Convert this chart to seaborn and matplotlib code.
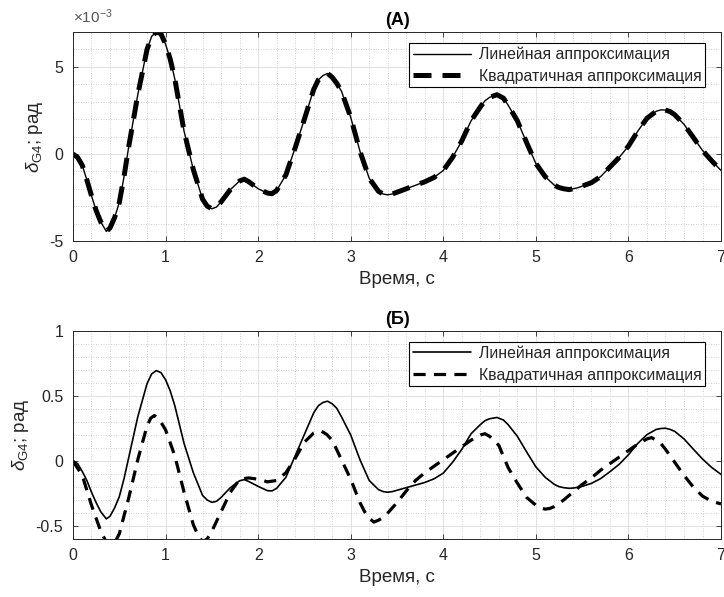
import numpy as np
import matplotlib
matplotlib.use("Agg")
import matplotlib.pyplot as plt
from matplotlib.ticker import FixedLocator, MultipleLocator, FuncFormatter
import seaborn as sns

# ---------------- data ----------------
t_lin = [0.0, 0.05, 0.1, 0.15, 0.2, 0.25, 0.3, 0.36, 0.4, 0.45, 0.5, 0.55, 0.6, 0.7, 0.8,
         0.85, 0.9, 0.95, 1.0, 1.05, 1.1, 1.2, 1.3, 1.4, 1.45, 1.5, 1.55, 1.6, 1.7, 1.8,
         1.85, 1.9, 2.0, 2.1, 2.15, 2.2, 2.3, 2.4, 2.5, 2.6, 2.65, 2.7, 2.75, 2.8, 2.85,
         2.9, 3.0, 3.1, 3.2, 3.3, 3.35, 3.4, 3.45, 3.5, 3.6, 3.7, 3.8, 3.9, 4.0, 4.1,
         4.2, 4.3, 4.4, 4.45, 4.5, 4.58, 4.65, 4.7, 4.8, 4.9, 5.0, 5.1, 5.2, 5.25, 5.3,
         5.36, 5.4, 5.45, 5.5, 5.6, 5.7, 5.8, 5.9, 6.0, 6.1, 6.2, 6.3, 6.35, 6.4, 6.45,
         6.5, 6.6, 6.7, 6.8, 6.9, 7.0]

# panel (A): values in units of 1e-3 rad
lin_a = [0.0, -0.2, -0.65, -1.5, -2.4, -3.25, -3.9, -4.45, -4.25, -3.65, -2.8, -1.35, 0.35, 3.4, 6.0,
         6.75, 7.0, 6.9, 6.3, 5.45, 4.3, 1.3, -0.9, -2.6, -3.0, -3.15, -3.05, -2.75, -2.05, -1.55,
         -1.45, -1.6, -2.0, -2.25, -2.28, -2.1, -1.2, 0.35, 2.0, 3.7, 4.25, 4.5, 4.62, 4.4, 4.05,
         3.6, 2.1, 0.15, -1.4, -2.15, -2.3, -2.35, -2.3, -2.2, -2.0, -1.8, -1.6, -1.35, -0.95, -0.2,
         0.75, 1.9, 2.7, 3.05, 3.25, 3.4, 3.2, 2.8, 1.9, 0.65, -0.55, -1.3, -1.8, -1.93, -2.0,
         -2.05, -2.0, -1.95, -1.85, -1.65, -1.3, -0.75, -0.2, 0.45, 1.3, 2.05, 2.45, 2.53, 2.52, 2.43,
         2.25, 1.7, 0.95, 0.2, -0.4, -0.95]
# the quadratic curve of panel (A) coincides with the linear one
quad_a = [0.0, -0.2, -0.65, -1.5, -2.4, -3.25, -3.9, -4.45, -4.25, -3.65, -2.8, -1.35, 0.35, 3.4, 6.0,
          6.75, 7.0, 6.9, 6.3, 5.45, 4.3, 1.3, -0.9, -2.6, -3.0, -3.15, -3.05, -2.75, -2.05, -1.55,
          -1.45, -1.6, -2.0, -2.25, -2.28, -2.1, -1.2, 0.35, 2.0, 3.7, 4.25, 4.5, 4.62, 4.4, 4.05,
          3.6, 2.1, 0.15, -1.4, -2.15, -2.3, -2.35, -2.3, -2.2, -2.0, -1.8, -1.6, -1.35, -0.95, -0.2,
          0.75, 1.9, 2.7, 3.05, 3.25, 3.4, 3.2, 2.8, 1.9, 0.65, -0.55, -1.3, -1.8, -1.93, -2.0,
          -2.05, -2.0, -1.95, -1.85, -1.65, -1.3, -0.75, -0.2, 0.45, 1.3, 2.05, 2.45, 2.53, 2.52, 2.43,
          2.25, 1.7, 0.95, 0.2, -0.4, -0.95]
scale_a = 1e-3

# panel (Б): values in rad
lin_b = [0.0, -0.02, -0.08, -0.15, -0.24, -0.32, -0.39, -0.445, -0.425, -0.36, -0.275, -0.14, 0.02, 0.34, 0.595,
         0.67, 0.695, 0.68, 0.625, 0.54, 0.425, 0.135, -0.09, -0.265, -0.30, -0.318, -0.31, -0.28, -0.205, -0.152,
         -0.143, -0.158, -0.195, -0.228, -0.23, -0.21, -0.125, 0.04, 0.205, 0.37, 0.425, 0.45, 0.46, 0.44, 0.405,
         0.34, 0.2, 0.01, -0.15, -0.22, -0.235, -0.24, -0.235, -0.225, -0.205, -0.185, -0.165, -0.137, -0.093, -0.01,
         0.09, 0.21, 0.28, 0.31, 0.325, 0.335, 0.315, 0.28, 0.19, 0.07, -0.045, -0.125, -0.18, -0.197, -0.205,
         -0.21, -0.208, -0.203, -0.195, -0.172, -0.135, -0.082, -0.025, 0.048, 0.135, 0.203, 0.243, 0.25, 0.252, 0.243,
         0.228, 0.17, 0.092, 0.015, -0.05, -0.103]

t_quad = [0.0, 0.1, 0.2, 0.3, 0.35, 0.4, 0.45, 0.5, 0.6, 0.7, 0.8, 0.84, 0.88, 0.94, 1.0,
          1.1, 1.2, 1.3, 1.35, 1.4, 1.45, 1.5, 1.6, 1.7, 1.8, 1.9, 2.0, 2.1, 2.2, 2.3,
          2.4, 2.5, 2.6, 2.64, 2.68, 2.74, 2.8, 2.9, 3.0, 3.1, 3.15, 3.2, 3.25, 3.3, 3.35,
          3.4, 3.5, 3.6, 3.7, 3.8, 3.9, 4.0, 4.1, 4.2, 4.3, 4.4, 4.45, 4.5, 4.6, 4.7,
          4.8, 4.9, 5.0, 5.05, 5.1, 5.15, 5.2, 5.3, 5.4, 5.5, 5.6, 5.7, 5.8, 5.9, 6.0,
          6.1, 6.2, 6.25, 6.3, 6.35, 6.4, 6.5, 6.6, 6.7, 6.8, 6.9, 7.0]
quad_b = [0.0, -0.11, -0.34, -0.54, -0.61, -0.66, -0.63, -0.56, -0.29, 0.01, 0.27, 0.33, 0.35, 0.31, 0.24,
          0.04, -0.24, -0.49, -0.57, -0.62, -0.6, -0.54, -0.39, -0.24, -0.14, -0.13, -0.14, -0.16, -0.15, -0.09,
          0.02, 0.145, 0.215, 0.225, 0.23, 0.205, 0.16, 0.01, -0.14, -0.32, -0.39, -0.44, -0.47, -0.455, -0.435,
          -0.40, -0.32, -0.23, -0.15, -0.09, -0.04, 0.01, 0.06, 0.11, 0.16, 0.20, 0.21, 0.19, 0.12, -0.05,
          -0.17, -0.28, -0.34, -0.36, -0.37, -0.365, -0.35, -0.30, -0.24, -0.18, -0.13, -0.07, -0.02, 0.03, 0.08,
          0.13, 0.17, 0.18, 0.16, 0.135, 0.09, -0.01, -0.11, -0.20, -0.27, -0.31, -0.33]

assert len(t_lin) == len(lin_a) == len(quad_a) == len(lin_b)
assert len(t_quad) == len(quad_b)

label_lin = "Линейная аппроксимация"
label_quad = "Квадратичная аппроксимация"
titles = ["(A)", "(Б)"]
xlabel = "Время, с"
ylabel = r"$\delta_{\mathrm{G4}}$; рад"
x_ticks = [0, 1, 2, 3, 4, 5, 6, 7]
y_ticks_a = [-5e-3, 0, 5e-3]
y_ticks_b = [-0.5, 0, 0.5, 1]

# ---------------- style ----------------
sns.set_theme(style="ticks")
plt.rcParams["font.family"] = ["Liberation Sans", "DejaVu Sans"]
plt.rcParams["mathtext.fontset"] = "custom"
plt.rcParams["mathtext.rm"] = "Liberation Sans"
plt.rcParams["mathtext.it"] = "Liberation Sans:italic"
plt.rcParams["axes.unicode_minus"] = False

TXT = "#262626"
fig = plt.figure(figsize=(7.24, 5.97), dpi=100)
ax_a = fig.add_axes([0.1008, 0.5963, 0.8951, 0.3501])
ax_b = fig.add_axes([0.1008, 0.0971, 0.8951, 0.3485])


def style_axes(ax, yticks, ylim, yminor, fmt):
    ax.set_xlim(0, 7)
    ax.set_ylim(*ylim)
    ax.xaxis.set_major_locator(FixedLocator(x_ticks))
    ax.yaxis.set_major_locator(FixedLocator(yticks))
    ax.xaxis.set_minor_locator(MultipleLocator(0.2))
    ax.yaxis.set_minor_locator(MultipleLocator(yminor))
    ax.xaxis.set_major_formatter(FuncFormatter(lambda v, p: f"{v:g}"))
    ax.yaxis.set_major_formatter(FuncFormatter(fmt))
    ax.grid(True, which="major", color="#dcdcdc", lw=0.6, ls="-")
    ax.grid(True, which="minor", color="#c4c4c4", lw=0.6, ls=(0, (1, 2)))
    ax.set_axisbelow(True)
    ax.tick_params(which="major", direction="in", length=3.5, width=0.6,
                   top=True, right=True, labelsize=11.5, colors=TXT)
    ax.tick_params(axis="x", which="major", pad=6.5)
    ax.tick_params(axis="y", which="major", pad=7)
    ax.tick_params(which="minor", length=0, top=True, right=True)
    for s in ax.spines.values():
        s.set_color(TXT)
        s.set_linewidth(0.7)
    ax.set_xlabel(xlabel, fontsize=13.5, color=TXT, labelpad=4)
    ax.set_ylabel(ylabel, fontsize=13.5, color=TXT, labelpad=3)


# panel A
sns.lineplot(x=t_lin, y=[v * scale_a for v in lin_a], ax=ax_a, color="black", lw=1.0,
             estimator=None, sort=False, label=label_lin)
sns.lineplot(x=t_lin, y=[v * scale_a for v in quad_a], ax=ax_a, color="black", lw=3.6,
             estimator=None, sort=False, label=label_quad, linestyle=(0, (3.6, 2.2)))
style_axes(ax_a, y_ticks_a, (-5e-3, 7e-3), 1e-3, lambda v, p: f"{v / scale_a:g}")
ax_a.text(0.0, 1.03, r"$\times10^{-3}$", transform=ax_a.transAxes, ha="left", va="bottom",
          fontsize=11, color="#555555")

# panel Б
sns.lineplot(x=t_lin, y=lin_b, ax=ax_b, color="black", lw=1.2,
             estimator=None, sort=False, label=label_lin)
sns.lineplot(x=t_quad, y=quad_b, ax=ax_b, color="black", lw=2.3,
             estimator=None, sort=False, label=label_quad, linestyle=(0, (3.8, 2.6)))
style_axes(ax_b, y_ticks_b, (-0.6, 1.0), 0.1, lambda v, p: f"{v:g}")

for ax, title in zip([ax_a, ax_b], titles):
    ax.set_title(title, fontsize=13, fontweight="bold", color="black", pad=5)
    leg = ax.legend(loc="upper right", bbox_to_anchor=(0.975, 0.947), fontsize=11.4,
                    frameon=True, fancybox=False, framealpha=1, edgecolor="black",
                    handlelength=3.7, handletextpad=0.45, borderpad=0.22,
                    labelspacing=0.42, borderaxespad=0)
    leg.get_frame().set_linewidth(0.8)
    for txt in leg.get_texts():
        txt.set_color(TXT)

fig.savefig("out.png", dpi=100)
